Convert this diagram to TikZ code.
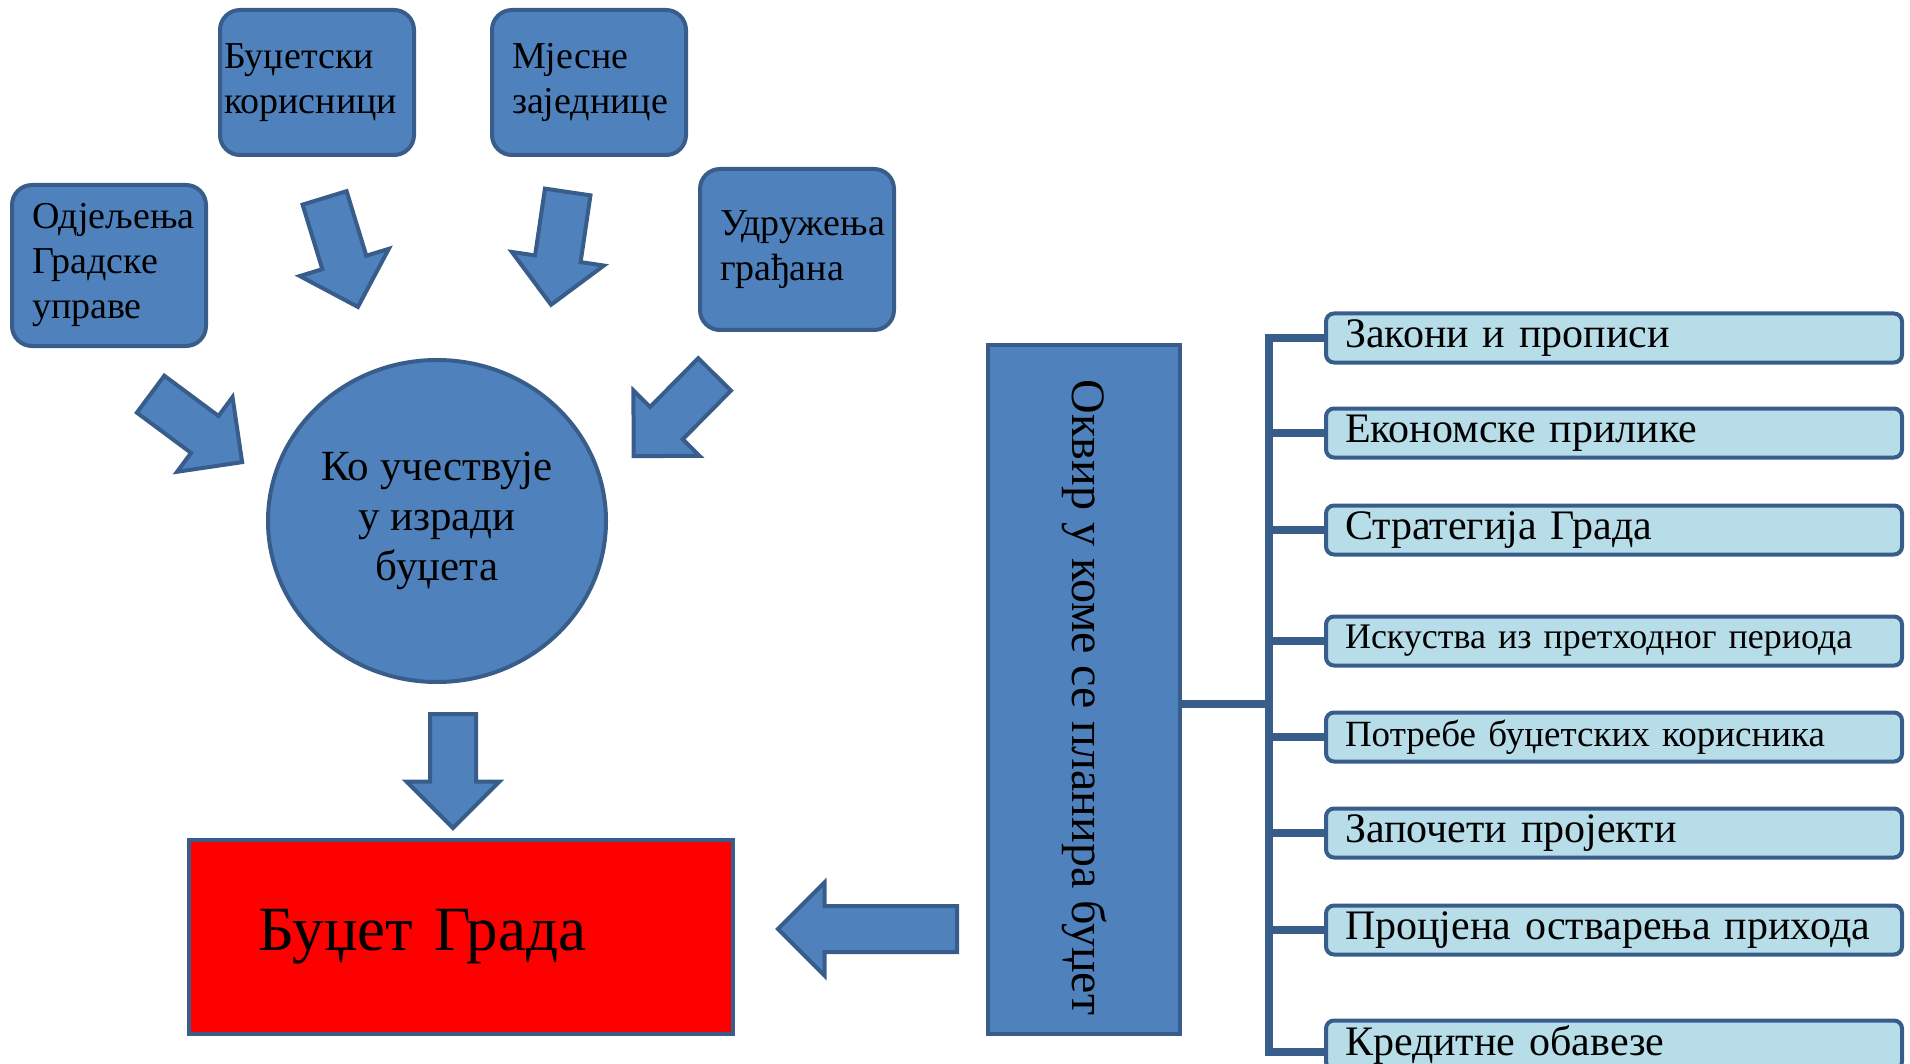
\documentclass[tikz,border=0pt]{standalone}
\usepackage{fontspec}
\setmainfont{Liberation Serif}
\usetikzlibrary{shapes.geometric,shapes.arrows}
\definecolor{boxblue}{HTML}{4F81BD}
\definecolor{edgeblue}{HTML}{385D8A}
\definecolor{paleblue}{HTML}{B7DDE8}
\tikzset{
  srcbox/.style={draw=edgeblue, fill=boxblue, line width=4pt, rounded corners=20pt,
    align=left, minimum width=194pt, inner xsep=20pt, text width=154pt,
    font=\fontsize{38}{45}\selectfont},
  fatarrow/.style={single arrow, draw=edgeblue, fill=boxblue, line width=4pt,
    inner xsep=0pt, inner ysep=21pt, minimum width=89pt,
    single arrow head extend=23.5pt, anchor=tail},
  factor/.style={draw=edgeblue, fill=paleblue, line width=4pt, rounded corners=8pt,
    anchor=west, minimum width=576pt, minimum height=49pt, inner xsep=19pt,
    text width=538pt, align=left, font=\fontsize{42}{50}\selectfont},
  branch/.style={draw=edgeblue, line width=8pt}
}
\begin{document}
\begin{tikzpicture}[x=1pt,y=-1pt]
 \useasboundingbox (0,0) rectangle (1910,1064);
 \clip (0,0) rectangle (1910,1064);
 \node[srcbox, minimum height=161pt] (odj) at (109,265.5) {Одјељења\\Градске\\управе};
 \node[srcbox, minimum height=145pt, inner xsep=4pt, text width=186pt] (kor) at (317,82.5) {Буџетски\\корисници};
 \node[srcbox, minimum height=145pt] (mz) at (589,82.5) {Мјесне\\заједнице};
 \node[srcbox, minimum height=161pt] (udr) at (797,249.5) {Удружења\\грађана};
 \node[ellipse, draw=edgeblue, fill=boxblue, line width=4pt, minimum width=338pt, minimum height=322pt,
    align=center, font=\fontsize{43}{50}\selectfont] (who) at (437,521) {Ко учествује\\у изради\\буџета};
 \node[fatarrow, minimum height=114pt, rotate=-36.6] (a1) at (149,393) {};
 \node[fatarrow, minimum height=114pt, rotate=-73] (a2) at (324,196) {};
 \node[fatarrow, minimum height=114pt, rotate=-98.4] (a3) at (568,190) {};
 \node[fatarrow, minimum height=115pt, rotate=-134.7] (a4) at (716,373) {};
 \node[fatarrow, minimum height=114pt, rotate=-90] (a5) at (453,712) {};
 \node[draw=edgeblue, fill=red, line width=4pt, minimum width=544pt, minimum height=194pt,
    inner xsep=69pt, text width=406pt, align=left, font=\fontsize{63}{70}\selectfont] (budget) at (461,937) {Буџет Града};
 \node[draw=edgeblue, fill=boxblue, line width=4pt, minimum width=192pt, minimum height=689pt,
    font=\fontsize{48}{50}\selectfont] (okvir) at (1084,689.5) {\rotatebox[origin=c]{-90}{\hspace*{16pt}Оквир у коме се планира буџет}};
 \node[fatarrow, minimum height=179pt, rotate=180] (a6) at (959,929) {};
 \node[factor] (l1) at (1324,338) {Закони и прописи};
 \node[factor] (l2) at (1324,433) {Економске прилике};
 \node[factor] (l3) at (1324,530) {Стратегија Града};
 \node[factor, font=\fontsize{36}{50}\selectfont] (l4) at (1324,641) {Искуства из претходног периода};
 \node[factor, font=\fontsize{37}{50}\selectfont] (l5) at (1324,737) {Потребе буџетских корисника};
 \node[factor] (l6) at (1324,833) {Започети пројекти};
 \node[factor] (l7) at (1324,930) {Процјена остварења прихода};
 \node[factor] (l8) at (1324,1045) {Кредитне обавезе};
 \coordinate (hub) at (1269,704);
 \coordinate (low) at (1269,1052);
 \draw[branch] (okvir.east |- hub) -- (hub);
 \draw[branch] (l1.west) -- (hub |- l1) -- (low) -- (l8.west |- low);
 \foreach \i in {2,...,7}
   \draw[branch] (hub |- l\i) -- (l\i.west);
\end{tikzpicture}
\end{document}
